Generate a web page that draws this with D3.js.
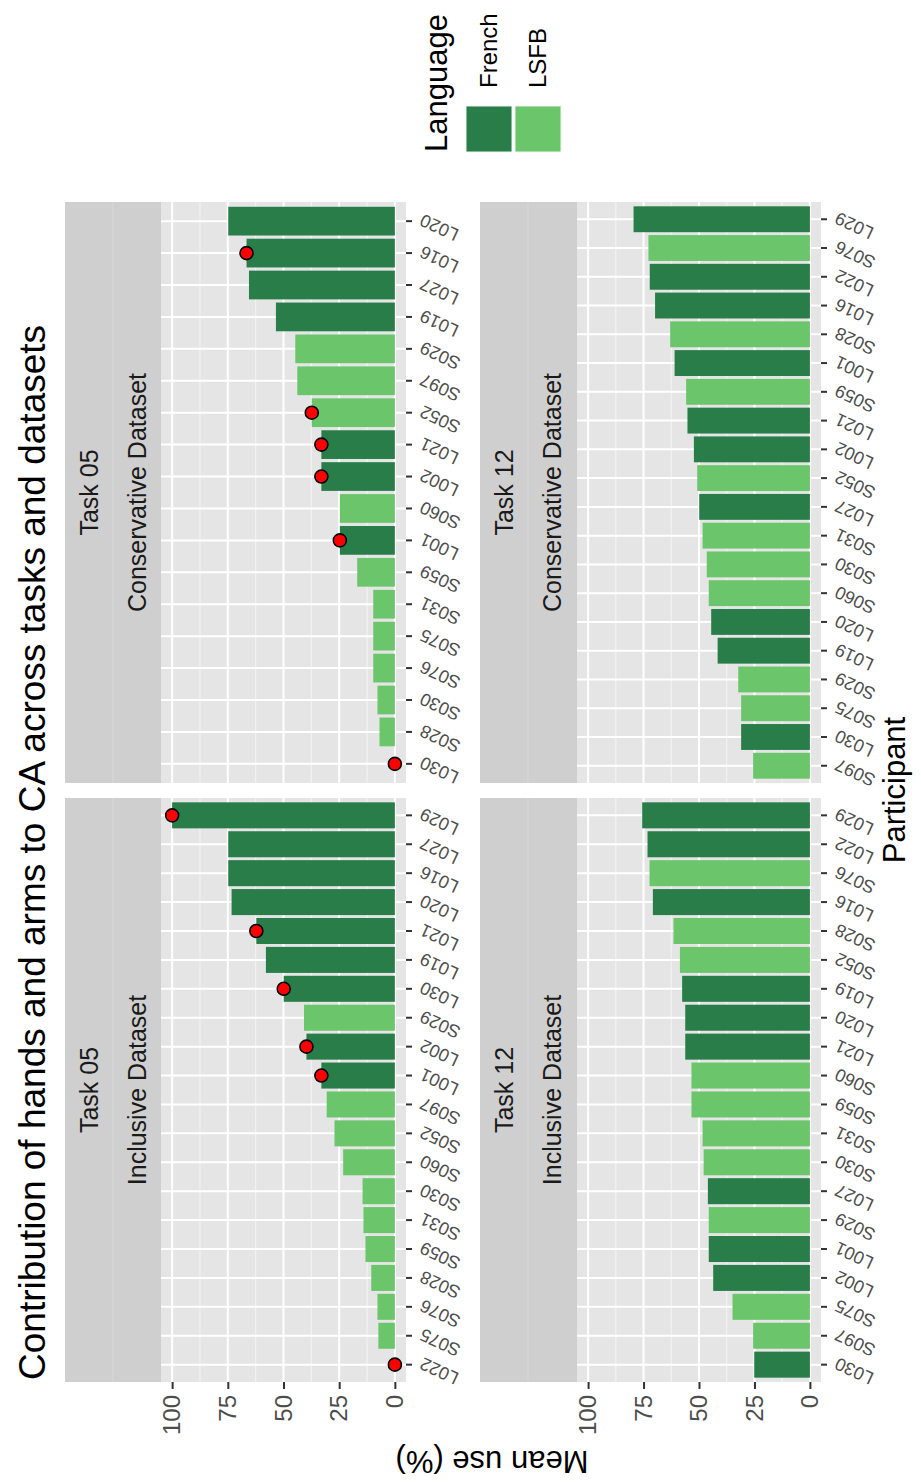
<!DOCTYPE html>
<html>
<head>
<meta charset="utf-8">
<script src="https://cdn.jsdelivr.net/npm/d3@7"></script>
<style>
body{margin:0;background:#fff;}
text{font-family:"Liberation Sans",Arial,Helvetica,sans-serif;}
</style>
</head>
<body>
<svg id="chart" width="921" height="1482"></svg>
<script>
// participants in plotting order (lowest to highest) and mean use (%) per panel
var t05IncIds = ["L022","S075","S076","S028","S059","S031","S030","S060","S052","S097","L001","L002","S029","L030","L019","L021","L020","L016","L027","L029"];
var t05IncVals = [0,7.4,7.8,10.6,13.2,14.1,14.5,23.2,27.1,30.6,33.0,39.7,40.8,49.9,57.9,62.2,73.3,74.8,74.8,100];
var t05IncDots = ["L022","L001","L002","L030","L021","L029"];

var t05ConIds = ["L030","S028","S030","S076","S075","S031","S059","L001","S060","L002","L021","S052","S097","S029","L019","L027","L016","L020"];
var t05ConVals = [0,6.9,7.8,9.7,9.7,9.7,16.9,24.7,24.7,33.0,33.0,37.3,43.8,44.7,53.4,65.5,66.6,74.8];
var t05ConDots = ["L030","L001","L002","L021","S052","L016"];

var t12IncIds = ["L030","S097","S075","L002","L001","S029","L027","S030","S031","S059","S060","L021","L020","L019","S052","S028","L016","S076","L022","L029"];
var t12IncVals = [25.1,25.6,34.9,43.6,45.6,45.6,46.0,47.9,48.4,53.4,53.4,56.2,56.2,57.6,58.6,61.5,70.8,72.3,73.2,75.6];
var t12IncDots = [];

var t12ConIds = ["S097","L030","S075","S029","L019","L020","S060","S030","S031","L027","S052","L002","L021","S059","L001","S028","L016","L022","S076","L029"];
var t12ConVals = [25.6,31.0,31.0,32.3,41.6,44.5,45.6,46.5,48.4,49.9,50.8,52.3,55.2,55.8,61.0,63.0,69.8,72.2,72.8,79.5];
var t12ConDots = [];

var yTicks = [0,25,50,75,100];
var yMinor = [12.5,37.5,62.5,87.5];
var languages = ["French","LSFB"];
var langColors = ["#287d48","#6bc56b"];

var panels = [
    {row:0,col:0,task:"Task 05",ds:"Inclusive Dataset",ids:t05IncIds,vals:t05IncVals,dots:t05IncDots},
    {row:0,col:1,task:"Task 05",ds:"Conservative Dataset",ids:t05ConIds,vals:t05ConVals,dots:t05ConDots},
    {row:1,col:0,task:"Task 12",ds:"Inclusive Dataset",ids:t12IncIds,vals:t12IncVals,dots:t12IncDots},
    {row:1,col:1,task:"Task 12",ds:"Conservative Dataset",ids:t12ConIds,vals:t12ConVals,dots:t12ConDots}
];

// the plot is laid out landscape (1482 x 921) then turned a quarter turn
var colX = [[100,684],[699,1280]];
var rowY = [{strip:65,top:161,bottom:406},{strip:480,top:577,bottom:821}];

var color = d3.scaleOrdinal().domain(languages).range(langColors);
function lang(id){ return id.charAt(0)==="L" ? "French" : "LSFB"; }

var svg = d3.select("#chart");
var root = svg.append("g").attr("transform","translate(0,1482) rotate(-90)");

root.append("text")
    .attr("x",102).attr("y",45)
    .attr("font-size",37).attr("fill","#000")
    .text("Contribution of hands and arms to CA across tasks and datasets");

panels.forEach(function (p) {
    var cx = colX[p.col], ry = rowY[p.row];
    var g = root.append("g");
    var x = d3.scaleBand().domain(p.ids).range(cx).paddingInner(0.1).paddingOuter(0.15);
    var y = d3.scaleLinear().domain([-5,105]).range([ry.bottom,ry.top]);

    // strips
    g.append("rect").attr("x",cx[0]).attr("y",ry.strip).attr("width",cx[1]-cx[0]).attr("height",48).attr("fill","#cfcfcf");
    g.append("rect").attr("x",cx[0]).attr("y",ry.strip+48).attr("width",cx[1]-cx[0]).attr("height",ry.top-ry.strip-48).attr("fill","#cfcfcf");
    g.append("line").attr("x1",cx[0]).attr("x2",cx[1]).attr("y1",ry.strip+48).attr("y2",ry.strip+48).attr("stroke","#d8d8d8").attr("stroke-width",1);
    g.append("text").attr("x",(cx[0]+cx[1])/2).attr("y",ry.strip+24).attr("dy","0.35em")
        .attr("text-anchor","middle").attr("font-size",25).attr("fill","#1a1a1a").text(p.task);
    g.append("text").attr("x",(cx[0]+cx[1])/2).attr("y",ry.strip+72).attr("dy","0.35em")
        .attr("text-anchor","middle").attr("font-size",25).attr("fill","#1a1a1a").text(p.ds);

    // panel
    g.append("rect").attr("x",cx[0]).attr("y",ry.top).attr("width",cx[1]-cx[0]).attr("height",ry.bottom-ry.top).attr("fill","#e5e5e5");
    g.selectAll(".minor").data(yMinor).enter().append("line")
        .attr("x1",cx[0]).attr("x2",cx[1]).attr("y1",y).attr("y2",y)
        .attr("stroke","#f2f2f2").attr("stroke-width",1.2);
    g.selectAll(".major").data(yTicks).enter().append("line")
        .attr("x1",cx[0]).attr("x2",cx[1]).attr("y1",y).attr("y2",y)
        .attr("stroke","#fff").attr("stroke-width",2);
    g.selectAll(".xgrid").data(p.ids).enter().append("line")
        .attr("x1",function (d) { return x(d)+x.bandwidth()/2; })
        .attr("x2",function (d) { return x(d)+x.bandwidth()/2; })
        .attr("y1",ry.top).attr("y2",ry.bottom)
        .attr("stroke","#fff").attr("stroke-width",2);

    // bars
    g.selectAll(".bar").data(p.ids).enter().append("rect")
        .attr("x",function (d) { return x(d); })
        .attr("width",x.bandwidth())
        .attr("y",function (d,i) { return y(p.vals[i]); })
        .attr("height",function (d,i) { return y(0)-y(p.vals[i]); })
        .attr("fill",function (d) { return color(lang(d)); });

    // red points
    g.selectAll(".dot").data(p.dots).enter().append("circle")
        .attr("cx",function (d) { return x(d)+x.bandwidth()/2; })
        .attr("cy",function (d) { return y(p.vals[p.ids.indexOf(d)]); })
        .attr("r",6.5).attr("fill","#ff0000").attr("stroke","#000").attr("stroke-width",1.6);

    // participant axis
    var xa = g.append("g").attr("transform","translate(0,"+ry.bottom+")")
        .call(d3.axisBottom(x).tickSize(6).tickPadding(4));
    xa.select(".domain").remove();
    xa.selectAll(".tick line").attr("stroke","#333").attr("stroke-width",2);
    xa.selectAll(".tick text")
        .attr("font-size",18).attr("fill","#4d4d4d")
        .attr("text-anchor","end").attr("dy","0.35em")
        .attr("transform","translate(2,15) rotate(-65)").attr("y",0).attr("x",0)
        .style("font-family","'Liberation Sans',Arial,sans-serif");

    // value axis only on the left column
    if (p.col===0) {
        var ya = g.append("g").attr("transform","translate("+cx[0]+",0)")
            .call(d3.axisLeft(y).tickValues(yTicks).tickSize(7).tickPadding(6));
        ya.select(".domain").remove();
        ya.selectAll(".tick line").attr("stroke","#333").attr("stroke-width",2);
        ya.selectAll(".tick text").attr("font-size",24).attr("fill","#4d4d4d")
            .style("font-family","'Liberation Sans',Arial,sans-serif");
    }
});

root.append("text")
    .attr("transform","translate(31,492) rotate(-90)")
    .attr("text-anchor","middle").attr("font-size",31).attr("fill","#000")
    .text("Mean use (%)");
root.append("text")
    .attr("x",692).attr("y",905)
    .attr("text-anchor","middle").attr("font-size",31).attr("fill","#000")
    .text("Participant");

// legend
var leg = root.append("g");
leg.append("text").attr("x",1330).attr("y",447).attr("font-size",31).attr("fill","#000").text("Language");
var keys = leg.selectAll(".key").data(languages).enter().append("g")
    .attr("transform",function (d,i) { return "translate(1330,"+(466+i*49)+")"; });
keys.append("rect").attr("width",46).attr("height",46)
    .attr("fill",function (d) { return color(d); })
    .attr("stroke","#f2f2f2").attr("stroke-width",1);
keys.append("text").attr("x",64).attr("y",23).attr("dy","0.35em")
    .attr("font-size",24).attr("fill","#000").text(function (d) { return d; });
</script>
</body>
</html>
